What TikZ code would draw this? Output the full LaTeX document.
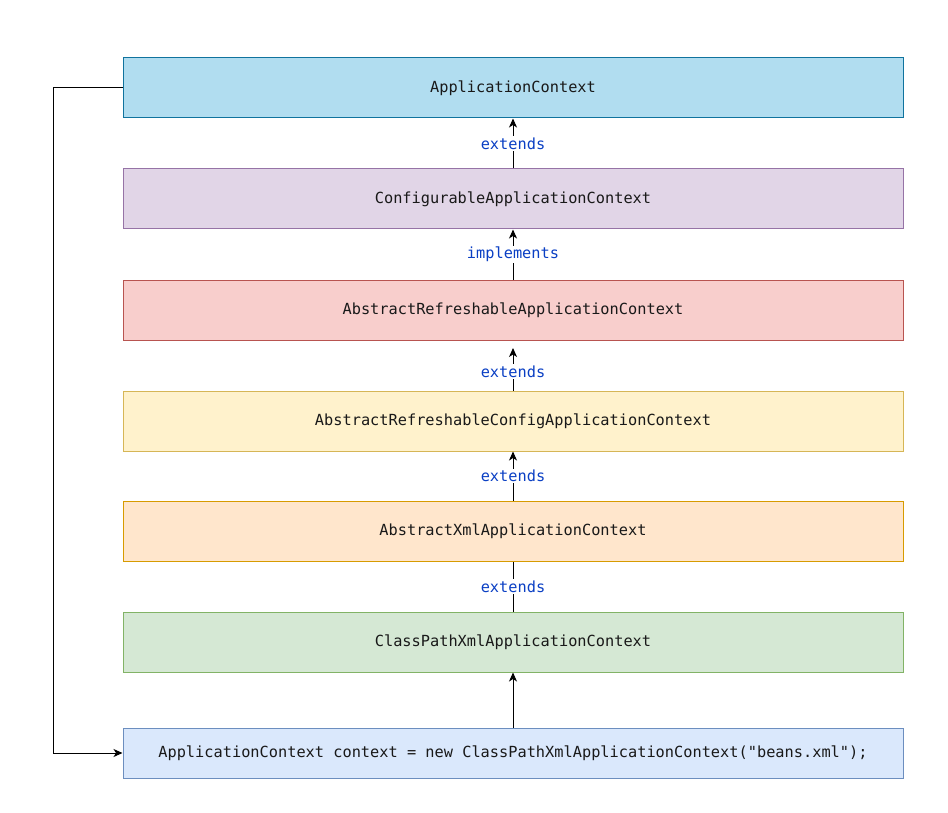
\documentclass[tikz,border=0pt]{standalone}
\usepackage{fontspec}
\setmonofont{DejaVu Sans Mono}
\usetikzlibrary{arrows.meta}
\definecolor{fA}{HTML}{B1DDF0}\definecolor{sA}{HTML}{10739E}
\definecolor{fB}{HTML}{E1D5E7}\definecolor{sB}{HTML}{9673A6}
\definecolor{fC}{HTML}{F8CECC}\definecolor{sC}{HTML}{B85450}
\definecolor{fD}{HTML}{FFF2CC}\definecolor{sD}{HTML}{D6B656}
\definecolor{fE}{HTML}{FFE6CC}\definecolor{sE}{HTML}{D79B00}
\definecolor{fF}{HTML}{D5E8D4}\definecolor{sF}{HTML}{82B366}
\definecolor{fG}{HTML}{DAE8FC}\definecolor{sG}{HTML}{6C8EBF}
\definecolor{lbl}{HTML}{0A3FC4}
\tikzset{
  cls/.style={draw, line width=1pt, minimum width=780pt, minimum height=60pt, inner sep=0pt, font=\fontsize{15.3}{18}\selectfont\ttfamily, text=black!90},
  conn/.style={line width=1pt, -{Stealth[length=9pt,width=8pt,inset=2.5pt]}},
  plain/.style={line width=1pt},
  lab/.style={fill=white, inner sep=1.5pt, font=\fontsize{15.3}{18}\selectfont\ttfamily, text=lbl}
}
\begin{document}
\begin{tikzpicture}[x=1pt,y=-1pt]
\useasboundingbox (0,0) rectangle (948,813);
\node[cls, fill=fA, draw=sA] (a) at (513,88) {ApplicationContext};
\node[cls, fill=fB, draw=sB] (b) at (513,199) {ConfigurableApplicationContext};
\node[cls, fill=fC, draw=sC] (c) at (513,310) {AbstractRefreshableApplicationContext};
\node[cls, fill=fD, draw=sD] (d) at (513,421) {AbstractRefreshableConfigApplicationContext};
\node[cls, fill=fE, draw=sE] (e) at (513,531) {AbstractXmlApplicationContext};
\node[cls, fill=fF, draw=sF] (f) at (513,642) {ClassPathXmlApplicationContext};
\node[cls, fill=fG, draw=sG, minimum height=50pt] (g) at (513,753) {ApplicationContext context = new ClassPathXmlApplicationContext("beans.xml");};
\coordinate (cTarget) at (513,348);
\draw[conn] (b.north) -- node[lab] {extends} (a.south);
\draw[conn] (c.north) -- node[lab] {implements} (b.south);
\draw[conn] (d.north) -- node[lab, pos=0.45] {extends} (cTarget);
\draw[conn] (e.north) -- node[lab] {extends} (d.south);
\draw[plain] (f.north) -- node[lab] {extends} (e.south);
\draw[conn] (g.north) -- (f.south);
\coordinate (l1) at (53,88);
\coordinate (l2) at (53,753);
\draw[conn] (a.west) -- (l1) -- (l2) -- (g.west);
\end{tikzpicture}
\end{document}
